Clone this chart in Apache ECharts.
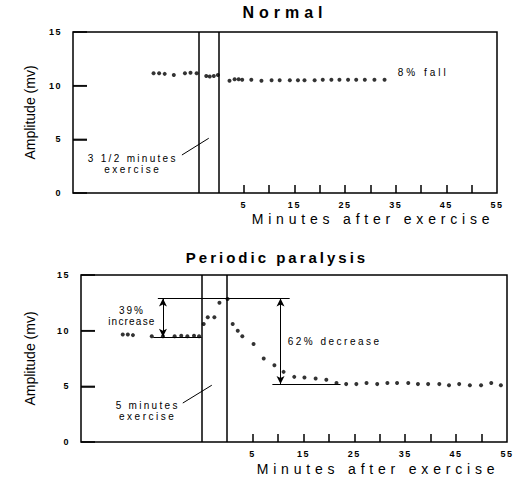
<!DOCTYPE html>
<html><head><meta charset="utf-8">
<script src="https://cdn.jsdelivr.net/npm/echarts@6/dist/echarts.min.js"></script>
<style>html,body{margin:0;padding:0;background:#fff}#c{width:525px;height:480px}</style>
</head><body><div id="c"></div>
<script>
// ---- data ----
const normalTime = [-12.8,-11.7,-10.6,-8.8,-6.6,-5.5,-4.3,-2.4,-1.7,-0.9,-0.1,2.2,3.2,4.0,4.7,6.5,8.5,10.5,12.1,14.1,15.7,17.0,19.0,20.6,22.3,23.9,25.6,27.2,28.9,30.8,32.8];
const normalAmp  = [11.15,11.15,11.1,11.0,11.15,11.2,11.15,10.9,10.85,10.9,11.0,10.45,10.6,10.6,10.55,10.55,10.45,10.5,10.5,10.5,10.5,10.5,10.5,10.55,10.55,10.55,10.55,10.55,10.55,10.55,10.55];
const ppTime = [-20.5,-19.5,-18.5,-14.8,-12.6,-10.3,-9.0,-7.8,-6.5,-5.5,-4.6,-3.8,-2.5,-1.5,0.1,1.1,2.1,3.0,5.2,7.2,9.3,11.1,13.2,15.2,17.4,19.5,21.5,23.4,25.4,27.4,29.5,31.5,33.4,35.6,37.5,39.5,41.7,43.6,45.6,47.7,49.9,51.9,53.8];
const ppAmp  = [9.65,9.65,9.6,9.5,9.5,9.5,9.55,9.5,9.55,9.5,10.6,11.2,11.2,12.5,12.85,10.6,10.0,9.5,8.8,7.5,6.9,6.3,5.85,5.8,5.7,5.6,5.3,5.2,5.2,5.3,5.2,5.3,5.3,5.3,5.2,5.2,5.2,5.1,5.2,5.1,5.1,5.3,5.1];
const xTickMarks  = [5,10,15,20,25,30,35,40,45,50];
const xTickLabels = [5,15,25,35,45,55];
const yTicks = [0,5,10,15];
const yInnerTicks = [5,10];
const normalExercise = [-3.8, 0];
const ppExercise = [-5, 0];
const ppPeak = 12.9, ppBase = 9.45, ppLow = 5.2;
const titles = ['Normal', 'Periodic paralysis'];
const xName = 'Minutes after exercise';
const yName = 'Amplitude (mv)';

const FONT = 'Liberation Sans';
const BLK = '#000';
const X_MIN = -28.7, X_MAX = 55;

function xAxisCfg(i){
  return {gridIndex:i, type:'value', min:X_MIN, max:X_MAX, position:'bottom',
    axisLine:{show:false, onZero:false}, splitLine:{show:false},
    axisTick:{show:true, inside:true, length:8, customValues:xTickMarks, lineStyle:{color:BLK,width:1.5}},
    axisLabel:{show:true, customValues:xTickLabels, margin:7, fontFamily:FONT, fontSize:9, fontWeight:'bold', color:BLK}};
}
function yAxisCfg(i, gap){
  return {gridIndex:i, type:'value', min:yTicks[0], max:yTicks[yTicks.length-1], interval:5, position:'left',
    axisLine:{show:false, onZero:false}, splitLine:{show:false},
    axisTick:{show:true, inside:true, length:14, lineStyle:{color:BLK,width:1.5}},
    axisLabel:{show:true, margin:11, fontFamily:FONT, fontSize:9, fontWeight:'bold', color:BLK},
    name:yName, nameLocation:'middle', nameGap:gap,
    nameTextStyle:{fontFamily:FONT, fontSize:14, color:BLK}};
}
const lineSt = {color:BLK, type:'solid', width:1.5};
const thin = {color:BLK, type:'solid', width:1};
function seg(a,b,arrows,st){
  const s = arrows ? 'arrow' : 'none';
  return [{coord:a, symbol:s, symbolSize:[6,8], lineStyle:st||thin},{coord:b, symbol:s, symbolSize:[6,8]}];
}
function txt(coord, text, pos){
  return {coord:coord, value:0, label:{show:true, formatter:text, position:pos||'inside', distance:0,
    fontFamily:FONT, fontSize:10, color:BLK, lineHeight:11, align:(pos==='right')?'left':'center'}};
}
// inward y tick marks as filled bars anchored at the left edge of each plot (through the scales)
function yTickSeries(gi){
  return {type:'scatter', xAxisIndex:gi, yAxisIndex:gi, silent:true, z:5, clip:false,
    symbol:'rect', symbolSize:[14,1.5], symbolOffset:[7,0], itemStyle:{color:BLK},
    data: yInnerTicks.map(v=>[X_MIN, v])};
}

const option = {
  animation:false, backgroundColor:'#fff',
  title:[
    {text:titles[0], left:285, top:4, textAlign:'center', padding:0, textStyle:{fontFamily:FONT,fontSize:16,fontWeight:'bold',color:BLK}},
    {text:titles[1], left:277, top:250, textAlign:'center', padding:0, textStyle:{fontFamily:FONT,fontSize:15,fontWeight:'bold',color:BLK}},
    {text:xName, left:373, top:212, textAlign:'center', padding:0, textStyle:{fontFamily:FONT,fontSize:14,fontWeight:'normal',color:BLK}},
    {text:xName, left:378, top:462, textAlign:'center', padding:0, textStyle:{fontFamily:FONT,fontSize:14,fontWeight:'normal',color:BLK}}
  ],
  grid:[
    {left:73, top:32, width:424, height:161, show:true, borderColor:BLK, borderWidth:1.5},
    {left:81, top:275, width:426, height:167, show:true, borderColor:BLK, borderWidth:1.5}
  ],
  xAxis:[xAxisCfg(0), xAxisCfg(1)],
  yAxis:[yAxisCfg(0,36), yAxisCfg(1,44)],
  series:[
    {type:'scatter', xAxisIndex:0, yAxisIndex:0, symbol:'circle', symbolSize:4, itemStyle:{color:BLK},
     data: normalTime.map((t,i)=>[t, normalAmp[i]]),
     markLine:{silent:true, animation:false, symbol:'none', label:{show:false}, lineStyle:lineSt,
       data:[{xAxis:normalExercise[0]},{xAxis:normalExercise[1]}, seg([-7.2,3.54],[-1.9,5.1],false)]},
     markPoint:{silent:true, animation:false, symbol:'circle', symbolSize:0, itemStyle:{color:'transparent'},
       data:[txt([-16.9,2.7],'3 1/2 minutes\nexercise'), txt([35.4,11.2],'8% fall','right')]}
    },
    {type:'scatter', xAxisIndex:1, yAxisIndex:1, symbol:'circle', symbolSize:4, itemStyle:{color:BLK},
     data: ppTime.map((t,i)=>[t, ppAmp[i]]),
     markLine:{silent:true, animation:false, symbol:'none', label:{show:false}, lineStyle:lineSt,
       data:[{xAxis:ppExercise[0]},{xAxis:ppExercise[1]},
         seg([-8.7,3.5],[-3.0,5.1],false),
         seg([-13.6,ppPeak],[12.3,ppPeak],false),
         seg([-14.5,ppBase],[-5,ppBase],false),
         seg([-12.6,ppPeak],[-12.6,ppBase],true),
         seg([10.5,ppPeak],[10.5,ppLow],true),
         seg([8.9,ppLow],[22.3,ppLow],false)]},
     markPoint:{silent:true, animation:false, symbol:'circle', symbolSize:0, itemStyle:{color:'transparent'},
       data:[txt([-15.6,2.8],'5 minutes\nexercise'), txt([-18.7,11.3],'39%\nincrease'), txt([11.9,9.0],'62% decrease','right')]}
    },
    yTickSeries(0), yTickSeries(1)
  ]
};
const chart = echarts.init(document.getElementById('c'), null, {renderer:'svg'});
chart.setOption(option);

// letter spacing to emulate the wide tracking of the original lettering
const spacing = {'Normal':5,'Periodic paralysis':3,'Minutes after exercise':4.8,'Amplitude (mv)':0,
  '3 1/2 minutes':2.3,'exercise':2.5,'5 minutes':2.3,'8% fall':3,'62% decrease':2.5,'39%':2,'increase':1.2};
function applySpacing(){
  document.querySelectorAll('#c svg text').forEach(t=>{
    const k = t.textContent.trim();
    const s = (k in spacing) ? spacing[k] : 1.5;
    if (t.getAttribute('letter-spacing') !== s+'px') t.setAttribute('letter-spacing', s+'px');
  });
}
applySpacing();
chart.on('finished', applySpacing);
new MutationObserver(applySpacing).observe(document.getElementById('c'), {childList:true, subtree:true});
setTimeout(applySpacing, 50);
</script>
</body></html>
